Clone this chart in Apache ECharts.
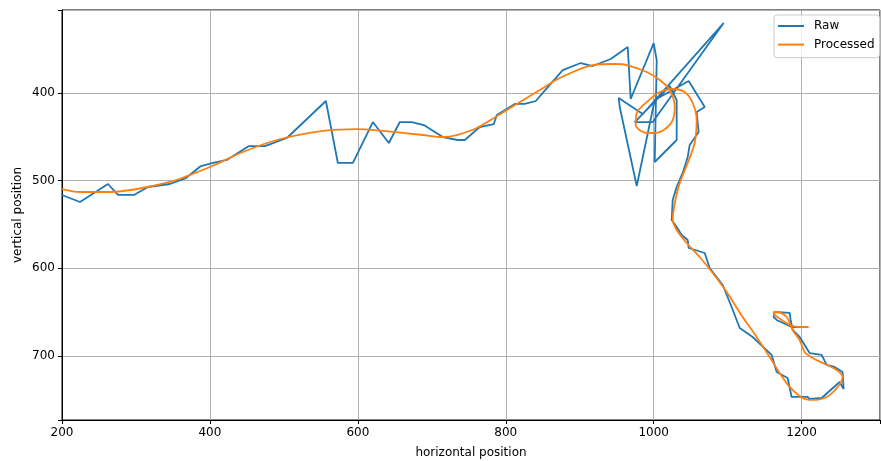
<!DOCTYPE html>
<html>
<head>
<meta charset="utf-8">
<script src="https://cdn.jsdelivr.net/npm/echarts@6/dist/echarts.min.js"></script>
<style>
html,body{margin:0;padding:0;background:#fff;}
#chart{width:881px;height:461px;}
</style>
</head>
<body>
<div id="chart"></div>
<script>
// ---- data ----
const xTicks = [200, 400, 600, 800, 1000, 1200];
const yTicks = [400, 500, 600, 700];

const rawX = [200.0, 224.3, 262.2, 275.7, 297.3, 316.2, 345.9, 367.6, 387.8, 404.1, 423.0, 452.7, 474.3, 504.1, 556.8, 573.0, 593.3, 620.3, 641.9, 656.8, 673.0, 689.2, 714.9, 735.2, 744.6, 764.9, 783.8, 787.9, 812.2, 825.7, 840.6, 856.8, 877.1, 901.4, 917.6, 941.9, 964.9,
  968.9, 1000.0, 1004.1, 1001.4, 1031.1, 1031.1, 1021.7, 974.4, 998.7, 1094.6, 985.2, 952.7, 954.1, 977.1, 1001.4, 1047.3, 1069.0, 1058.1, 1060.8,
  1048.7, 1046.0, 1039.2, 1031.1, 1025.7, 1024.4, 1031.1, 1037.9, 1046.0, 1047.3, 1069.0, 1075.7, 1093.3, 1105.4, 1116.3, 1133.8, 1159.5, 1166.3, 1181.1,
  1186.5, 1208.1, 1210.8, 1227.1, 1251.4, 1256.8, 1255.4, 1244.6, 1233.8, 1227.1, 1210.8, 1204.1, 1197.3, 1187.9, 1185.2, 1183.8, 1163.5, 1162.2, 1166.3, 1186.5, 1208.1];
const rawY = [516.3, 524.3, 503.8, 516.3, 516.3, 507.2, 503.8, 497.0, 483.3, 479.8, 476.4, 460.5, 460.5, 451.3, 409.1, 479.8, 479.8, 433.1, 457.0, 433.1, 433.1, 436.5, 450.2, 453.6, 453.6, 438.8, 435.4, 425.1, 412.5, 412.5, 409.1, 393.2, 373.8, 365.8, 369.2, 361.2, 347.5,
  406.8, 343.0, 362.4, 478.7, 453.6, 408.0, 392.0, 433.1, 433.1, 320.2, 424.0, 405.7, 416.0, 506.1, 408.0, 386.3, 416.0, 421.7, 444.5,
  459.3, 473.0, 491.2, 507.2, 522.0, 544.9, 552.8, 562.0, 567.7, 576.8, 582.5, 599.6, 619.0, 644.1, 668.0, 678.3, 698.8, 718.2, 725.1,
  746.7, 746.7, 749.0, 747.9, 729.6, 737.6, 718.2, 712.5, 710.2, 698.8, 696.6, 687.4, 678.3, 670.3, 658.9, 650.9, 649.8, 655.5, 658.9, 666.9, 666.9];

const procX = [200.0, 224.3, 264.9, 301.4, 346.0, 368.9, 400.0, 444.6, 490.5, 552.7, 598.6, 633.8, 687.9, 714.9, 733.8, 760.8, 801.4, 846.0, 873.0, 917.6, 947.3, 963.6, 990.6, 1008.2, 1021.7, 1028.5, 1024.5, 1008.2, 990.6, 975.7, 977.0, 990.6, 1008.2, 1025.8, 1041.9, 1052.7, 1058.1, 1055.4, 1046.0, 1035.2, 1028.5, 1025.8, 1031.1, 1044.6, 1062.2, 1079.8, 1098.7, 1120.3, 1139.2, 1156.8, 1170.3, 1183.8, 1201.4, 1214.9, 1233.8, 1248.7, 1255.4, 1247.3, 1228.4, 1214.9, 1204.1, 1197.3, 1187.9, 1179.8, 1167.6, 1162.2, 1163.6, 1173.0, 1187.9, 1209.5];
const procY = [509.5, 512.9, 512.9, 509.5, 501.5, 494.7, 484.4, 467.3, 453.6, 443.3, 441.1, 443.3, 447.9, 450.2, 447.9, 439.9, 419.4, 396.6, 382.9, 368.1, 366.9, 368.1, 376.0, 385.2, 396.6, 416.0, 433.1, 444.5, 445.6, 436.5, 422.8, 410.3, 398.9, 395.4, 398.9, 411.4, 430.8, 457.0, 479.8, 502.7, 525.5, 544.9, 556.3, 571.1, 587.1, 605.3, 627.0, 655.5, 678.3, 701.1, 719.4, 735.3, 747.9, 750.1, 746.7, 735.3, 723.9, 715.9, 707.9, 702.2, 695.4, 681.7, 670.3, 655.5, 649.8, 649.8, 653.2, 658.9, 665.8, 666.9];

const zip = (xs, ys) => xs.map((x, i) => [x, ys[i]]);

const chart = echarts.init(document.getElementById('chart'), null, {renderer: 'canvas'});
const font = 'DejaVu Sans';
chart.setOption({
  animation: false,
  backgroundColor: '#ffffff',
  textStyle: {fontFamily: font},
  grid: {left: 62, right: 1, top: 10, bottom: 41, containLabel: false, outerBoundsMode: 'none',
         show: true, borderColor: '#000', borderWidth: 1, backgroundColor: 'transparent'},
  legend: {
    left: 774, top: 15, orient: 'vertical',
    icon: 'rect', itemWidth: 26, itemHeight: 2, itemGap: 4.6,
    padding: [4, 5, 6, 4],
    borderColor: '#cccccc', borderWidth: 1, borderRadius: 3,
    backgroundColor: 'rgba(255,255,255,0.8)',
    textStyle: {fontFamily: font, fontSize: 12, color: '#000', lineHeight: 14, padding: [0, 0, 0, 5]},
    data: ['Raw', 'Processed']
  },
  xAxis: {
    type: 'value', min: 200, max: 1306, interval: 200,
    name: 'horizontal position', nameLocation: 'middle', nameGap: 27, nameMoveOverlap: false,
    nameTextStyle: {fontFamily: font, fontSize: 12, color: '#000'},
    axisLine: {show: true, lineStyle: {color: '#000', width: 1}},
    axisTick: {show: true, inside: false, length: 4, lineStyle: {color: '#000'}},
    axisLabel: {fontFamily: font, fontSize: 12, color: '#000', margin: 7, customValues: xTicks, formatter: v => String(v)},
    splitLine: {show: true, lineStyle: {color: '#b0b0b0', width: 1}}
  },
  yAxis: {
    type: 'value', inverse: true, min: 305.3, max: 773, splitNumber: 5,
    name: 'vertical position', nameLocation: 'middle', nameGap: 38, nameRotate: 90, nameMoveOverlap: false,
    nameTextStyle: {fontFamily: font, fontSize: 12, color: '#000'},
    axisLine: {show: true, lineStyle: {color: '#000', width: 1}},
    axisTick: {show: true, inside: false, length: 4, lineStyle: {color: '#000'}},
    axisLabel: {fontFamily: font, fontSize: 12, color: '#000', margin: 7, customValues: yTicks, formatter: v => String(v)},
    splitLine: {show: true, lineStyle: {color: '#b0b0b0', width: 1}}
  },
  series: [
    {name: 'Raw', type: 'line', data: zip(rawX, rawY), showSymbol: false, symbol: 'none',
     lineStyle: {color: '#1f77b4', width: 1.8}, itemStyle: {color: '#1f77b4'}, z: 2},
    {name: 'Processed', type: 'line', data: zip(procX, procY), showSymbol: false, symbol: 'none', smooth: 0.3,
     lineStyle: {color: '#ff7f0e', width: 1.8}, itemStyle: {color: '#ff7f0e'}, z: 3}
  ]
});
</script>
</body>
</html>
